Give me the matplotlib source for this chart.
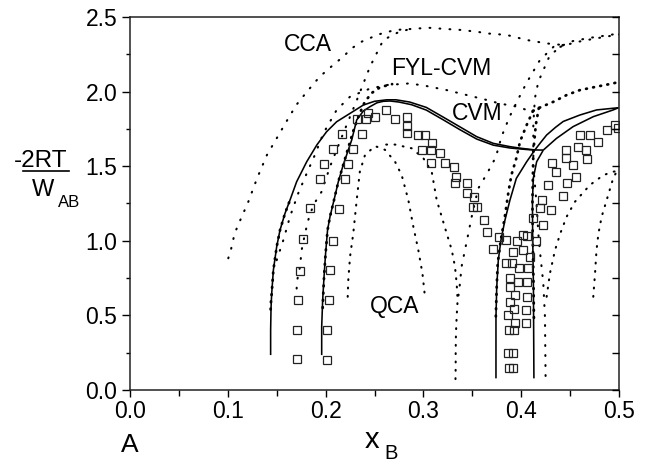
import numpy as np
import matplotlib
matplotlib.use("Agg")
import matplotlib.pyplot as plt
from matplotlib.ticker import MultipleLocator
from matplotlib.lines import Line2D

plt.rcParams['font.family'] = ['Liberation Sans', 'DejaVu Sans']

# ---- CVM (solid lines) ----
cvm_outer_x = [0.1438, 0.1438, 0.1442, 0.1449, 0.1466, 0.150, 0.1534, 0.1585, 0.1636, 0.1704,
               0.1807, 0.191, 0.201, 0.2113, 0.225, 0.2386, 0.250, 0.2625, 0.272, 0.286,
               0.303, 0.320, 0.337, 0.3545, 0.3715, 0.3885, 0.400, 0.409, 0.414]
cvm_outer_y = [0.234, 0.40, 0.55, 0.648, 0.804, 0.961, 1.072, 1.184, 1.273, 1.396,
               1.53, 1.642, 1.731, 1.798, 1.854, 1.91, 1.935, 1.945, 1.945, 1.93,
               1.894, 1.83, 1.765, 1.698, 1.653, 1.631, 1.62, 1.613, 1.609]
cvm_inner_x = [0.196, 0.196, 0.197, 0.1984, 0.200, 0.202, 0.2045, 0.2086, 0.213, 0.218,
               0.2267, 0.2318, 0.2386, 0.2454, 0.2525, 0.259, 0.266, 0.275, 0.288, 0.303,
               0.320, 0.337, 0.3545, 0.3715, 0.3885, 0.400, 0.409, 0.414]
cvm_inner_y = [0.234, 0.424, 0.603, 0.759, 0.916, 1.072, 1.162, 1.273, 1.396, 1.508,
               1.676, 1.81, 1.87, 1.899, 1.925, 1.935, 1.937, 1.93, 1.912, 1.876,
               1.812, 1.746, 1.682, 1.641, 1.622, 1.615, 1.61, 1.609]
cvm_tie_x = [0.414, 0.4226]
cvm_tie_y = [1.609, 1.608]
cvm_l12_x = [0.414, 0.4056, 0.395, 0.3885, 0.3834, 0.3793, 0.3766, 0.375, 0.3742, 0.3742]
cvm_l12_y = [1.609, 1.53, 1.418, 1.273, 1.139, 1.005, 0.871, 0.692, 0.491, 0.078]
cvm_l10_x = [0.4226, 0.4158, 0.4124, 0.4115, 0.4117, 0.4125, 0.413]
cvm_l10_y = [1.608, 1.53, 1.42, 1.27, 1.05, 0.70, 0.078]
cvm_up1_x = [0.414, 0.420, 0.426, 0.435, 0.443, 0.460, 0.477, 0.4995]
cvm_up1_y = [1.609, 1.66, 1.709, 1.76, 1.80, 1.843, 1.877, 1.892]
cvm_up2_x = [0.4226, 0.436, 0.453, 0.4737, 0.494, 0.4995]
cvm_up2_y = [1.608, 1.686, 1.765, 1.832, 1.877, 1.892]

# ---- FYL-CVM (dotted) ----
fyl_low_x = [0.1438, 0.1442, 0.1449, 0.1466, 0.150, 0.1534, 0.1585, 0.1636]
fyl_low_y = [0.54, 0.60, 0.648, 0.804, 0.961, 1.072, 1.184, 1.273]
fyl_outer_x = [0.150, 0.1568, 0.1636, 0.172, 0.1807, 0.189, 0.1977, 0.2113, 0.225, 0.2454,
               0.2625, 0.286, 0.3034, 0.3238, 0.3443, 0.3647, 0.378, 0.395, 0.4056, 0.412]
fyl_outer_y = [0.87, 1.005, 1.162, 1.318, 1.452, 1.575, 1.72, 1.877, 1.966, 2.02,
               2.044, 2.055, 2.037, 2.01, 1.977, 1.944, 1.92, 1.90, 1.877, 1.87]
fyl_inner_x = [0.197, 0.1984, 0.200, 0.202, 0.2045, 0.2086, 0.213, 0.218, 0.223, 0.2285,
               0.234, 0.240, 0.247, 0.256, 0.268]
fyl_inner_y = [0.55, 0.759, 0.916, 1.072, 1.162, 1.273, 1.396, 1.508, 1.62, 1.74,
               1.84, 1.93, 1.99, 2.03, 2.05]
fyl_l12_x = [0.412, 0.4056, 0.3988, 0.395, 0.390, 0.387, 0.383, 0.379, 0.376, 0.375, 0.374]
fyl_l12_y = [1.87, 1.776, 1.665, 1.553, 1.441, 1.329, 1.15, 1.0, 0.85, 0.7, 0.48]
fyl_l10_x = [0.418, 0.415, 0.4124, 0.412, 0.4115, 0.4117, 0.4125, 0.413]
fyl_l10_y = [1.89, 1.78, 1.6, 1.45, 1.27, 1.05, 0.75, 0.48]
fyl_up_x = [0.412, 0.418, 0.433, 0.4465, 0.46, 0.477, 0.494, 0.50]
fyl_up_y = [1.87, 1.89, 1.932, 1.977, 2.01, 2.033, 2.055, 2.065]

# ---- CCA (dotted) ----
cca_outer_x = [0.1005, 0.103, 0.107, 0.1135, 0.121, 0.130, 0.140, 0.150, 0.160, 0.170,
               0.181, 0.194, 0.208, 0.218, 0.2267, 0.237, 0.254, 0.271, 0.288, 0.305,
               0.322, 0.339, 0.356, 0.365, 0.385, 0.4056, 0.426, 0.443]
cca_outer_y = [0.883, 0.934, 1.05, 1.15, 1.262, 1.42, 1.575, 1.687, 1.80, 1.91,
               2.0, 2.10, 2.18, 2.234, 2.29, 2.335, 2.383, 2.413, 2.42, 2.428,
               2.42, 2.413, 2.40, 2.39, 2.38, 2.346, 2.323, 2.312]
cca_inner_x = [0.1704, 0.171, 0.1738, 0.1755, 0.179, 0.1823, 0.1875, 0.196, 0.2045, 0.218,
               0.232, 0.2454, 0.259, 0.275, 0.29]
cca_inner_y = [0.68, 0.737, 0.826, 0.938, 1.05, 1.14, 1.24, 1.33, 1.497, 1.72,
               1.944, 2.167, 2.346, 2.40, 2.425]
cca_top1_x = [0.443, 0.453, 0.470, 0.491, 0.50]
cca_top1_y = [2.312, 2.339, 2.36, 2.38, 2.39]
cca_top2_x = [0.440, 0.455, 0.475, 0.50]
cca_top2_y = [2.30, 2.33, 2.355, 2.383]
cca_down1_x = [0.443, 0.433, 0.419, 0.4056, 0.397, 0.388, 0.380, 0.374, 0.365, 0.356,
               0.3494, 0.346, 0.3425, 0.339, 0.3374, 0.3357]
cca_down1_y = [2.312, 2.30, 2.21, 2.06, 1.95, 1.83, 1.70, 1.56, 1.45, 1.35,
               1.162, 1.05, 0.938, 0.826, 0.715, 0.625]
cca_down2_x = [0.443, 0.4294, 0.4175, 0.414, 0.4124, 0.4124, 0.4158, 0.4175, 0.419,
               0.4226, 0.4243, 0.425]
cca_down2_y = [2.312, 2.245, 2.066, 1.955, 1.78, 1.5, 1.24, 1.05, 0.94,
               0.715, 0.49, 0.045]

# ---- QCA (dotted) ----
qca_dome_x = [0.2226, 0.2232, 0.225, 0.2283, 0.2318, 0.235, 0.2403, 0.2505, 0.2607, 0.271,
              0.2778, 0.2846, 0.2897, 0.2948, 0.299, 0.3016]
qca_dome_y = [0.625, 0.737, 0.894, 1.05, 1.273, 1.463, 1.575, 1.635, 1.61, 1.53,
              1.44, 1.273, 1.095, 0.938, 0.782, 0.625]
qca_out_x = [0.262, 0.271, 0.288, 0.30, 0.3085, 0.3136, 0.3187, 0.3238, 0.329, 0.3323,
             0.334, 0.335, 0.334, 0.3333, 0.333, 0.333, 0.3327]
qca_out_y = [1.645, 1.645, 1.62, 1.553, 1.463, 1.273, 1.162, 1.05, 0.938, 0.826,
             0.715, 0.603, 0.491, 0.38, 0.268, 0.156, 0.034]
qca_l10a_x = [0.426, 0.4294, 0.4346, 0.44, 0.4465, 0.455, 0.4703, 0.484, 0.494, 0.50]
qca_l10a_y = [0.625, 0.782, 0.938, 1.05, 1.162, 1.262, 1.374, 1.44, 1.463, 1.47]
qca_l10b_x = [0.4737, 0.4755, 0.477, 0.479, 0.4823, 0.4874, 0.494, 0.4975]
qca_l10b_y = [0.625, 0.782, 0.938, 1.05, 1.162, 1.273, 1.418, 1.463]

# ---- simulation points (open squares) ----
sq_x = [0.171, 0.171, 0.172, 0.1738, 0.177, 0.184, 0.1943, 0.1987, 0.208, 0.2168, 0.2318,
        0.2017, 0.2017, 0.2035, 0.205, 0.208, 0.214, 0.2198, 0.2232, 0.2277, 0.2376, 0.2413, 0.2437,
        0.2505, 0.2614, 0.271, 0.283, 0.283, 0.283, 0.2948, 0.3016, 0.2982, 0.3085, 0.3078,
        0.3075, 0.317, 0.322, 0.3313, 0.3333, 0.3323, 0.3443, 0.3443, 0.352, 0.351, 0.355,
        0.362, 0.3654, 0.3715, 0.3777,
        0.3845, 0.3954, 0.4022, 0.4063, 0.3913, 0.4022, 0.409, 0.3842, 0.3903, 0.398, 0.4066,
        0.3885, 0.397, 0.4056, 0.3885, 0.3937, 0.4056, 0.3885, 0.3926, 0.405, 0.3868, 0.3937,
        0.405, 0.3878, 0.3926, 0.3868, 0.392, 0.3875, 0.392,
        0.4124, 0.4148, 0.421, 0.4226, 0.4192, 0.4302, 0.4277, 0.431, 0.4356, 0.4424, 0.4471,
        0.456, 0.4526, 0.4458, 0.4458, 0.4584, 0.4663, 0.4669, 0.46, 0.4703, 0.479, 0.4874,
        0.4959, 0.4993]
sq_y = [0.206, 0.40, 0.603, 0.80, 1.01, 1.218, 1.414, 1.515, 1.615, 1.714, 1.814,
        0.20, 0.40, 0.603, 0.804, 1.0, 1.21, 1.414, 1.515, 1.615, 1.714, 1.814, 1.854,
        1.832, 1.877, 1.814, 1.832, 1.77, 1.72, 1.709, 1.709, 1.609, 1.653, 1.609,
        1.519, 1.586, 1.519, 1.497, 1.43, 1.385, 1.385, 1.318, 1.296, 1.229, 1.224,
        1.139, 1.06, 0.943, 1.023,
        1.005, 1.0, 1.039, 1.032, 0.927, 0.938, 0.889, 0.849, 0.849, 0.815, 0.815,
        0.749, 0.726, 0.726, 0.693, 0.637, 0.625, 0.592, 0.54, 0.536, 0.503, 0.447,
        0.447, 0.402, 0.402, 0.246, 0.25, 0.145, 0.145,
        1.15, 1.0, 1.273, 1.106, 1.218, 1.206, 1.374, 1.519, 1.464, 1.30, 1.385,
        1.43, 1.508, 1.609, 1.553, 1.631, 1.609, 1.548, 1.709, 1.709, 1.664, 1.743,
        1.776, 1.754]

x_ticks = [0.0, 0.1, 0.2, 0.3, 0.4, 0.5]
y_ticks = [0.0, 0.5, 1.0, 1.5, 2.0, 2.5]

W, H = 648, 462


def fx(px):
    return px / W


def fy(py):
    return 1 - py / H


fig = plt.figure(figsize=(W / 100, H / 100), dpi=100)
ax = fig.add_axes([fx(130), fy(390), 489 / W, 373 / H])

solid = dict(color='k', lw=1.15, solid_capstyle='butt')
for xs, ys in [(cvm_outer_x, cvm_outer_y), (cvm_inner_x, cvm_inner_y), (cvm_tie_x, cvm_tie_y),
               (cvm_l12_x, cvm_l12_y), (cvm_l10_x, cvm_l10_y),
               (cvm_up1_x, cvm_up1_y), (cvm_up2_x, cvm_up2_y)]:
    ax.plot(xs, ys, **solid)

bold_dots = dict(color='k', lw=2.0, linestyle=(0, (0.3, 2.3)), dash_capstyle='round')
fine_dots = dict(color='k', lw=1.5, linestyle=(0, (0.4, 4.4)), dash_capstyle='round')
qca_dots = dict(color='k', lw=1.5, linestyle=(0, (0.4, 3.6)), dash_capstyle='round')

for xs, ys in [(fyl_low_x, fyl_low_y), (fyl_inner_x, fyl_inner_y),
               (fyl_l12_x, fyl_l12_y), (fyl_l10_x, fyl_l10_y), (fyl_up_x, fyl_up_y)]:
    ax.plot(xs, ys, **bold_dots)
ax.plot(fyl_outer_x, fyl_outer_y, **fine_dots)

for xs, ys in [(cca_outer_x, cca_outer_y), (cca_inner_x, cca_inner_y),
               (cca_top1_x, cca_top1_y), (cca_top2_x, cca_top2_y),
               (cca_down1_x, cca_down1_y), (cca_down2_x, cca_down2_y)]:
    ax.plot(xs, ys, **fine_dots)

for xs, ys in [(qca_dome_x, qca_dome_y), (qca_out_x, qca_out_y),
               (qca_l10a_x, qca_l10a_y), (qca_l10b_x, qca_l10b_y)]:
    ax.plot(xs, ys, **qca_dots)

ax.plot(sq_x, sq_y, linestyle='none', marker='s', ms=5.6, mfc='none',
        mec='#222222', mew=0.9)

# curve labels
ax.text(0.1823, 2.317, 'CCA', fontsize=16.5, ha='center', va='center')
ax.text(0.3187, 2.156, 'FYL-CVM', fontsize=16.5, ha='center', va='center')
ax.text(0.3545, 1.854, 'CVM', fontsize=16.5, ha='center', va='center')
ax.text(0.271, 0.559, 'QCA', fontsize=16.5, ha='center', va='center')

ax.set_xlim(0, 0.5)
ax.set_ylim(0, 2.5)
ax.set_xticks(x_ticks)
ax.set_xticklabels(['%.1f' % v for v in x_ticks])
ax.set_yticks(y_ticks)
ax.set_yticklabels(['%.1f' % v for v in y_ticks])
ax.xaxis.set_minor_locator(MultipleLocator(0.05))
ax.yaxis.set_minor_locator(MultipleLocator(0.25))
ax.tick_params(axis='x', which='both', direction='out', top=False, labelsize=16.5, pad=2)
ax.tick_params(axis='x', which='major', length=5, width=1)
ax.tick_params(axis='x', which='minor', length=4.5, width=1)
ax.tick_params(axis='y', which='both', direction='out', right=False, labelsize=16.5, pad=3.5)
ax.tick_params(axis='y', which='major', length=5.5, width=1)
ax.tick_params(axis='y', which='minor', length=3.2, width=1)
for s in ax.spines.values():
    s.set_linewidth(1.1)
    s.set_color('#222222')

ax2 = ax.twinx()
ax2.set_ylim(0, 2.5)
ax2.yaxis.set_major_locator(MultipleLocator(0.25))
ax2.tick_params(axis='y', direction='in', length=5, width=1, labelright=False)
for s in ax2.spines.values():
    s.set_visible(False)

# axis labels
fig.text(fx(130), fy(452), 'A', fontsize=19, ha='center', va='baseline')
fig.text(fx(365), fy(448), 'x', fontsize=21, ha='left', va='baseline')
fig.text(fx(384), fy(459), 'B', fontsize=14.5, ha='left', va='baseline')

fig.text(fx(14), fy(167), '-2RT', fontsize=17.5, ha='left', va='baseline')
fig.add_artist(Line2D([fx(23), fx(69)], [fy(171), fy(171)], color='k', lw=1.2,
                      transform=fig.transFigure))
fig.text(fx(32), fy(196), 'W', fontsize=17, ha='left', va='baseline')
fig.text(fx(58), fy(207), 'AB', fontsize=12, ha='left', va='baseline')

fig.savefig('out.png', dpi=100)
